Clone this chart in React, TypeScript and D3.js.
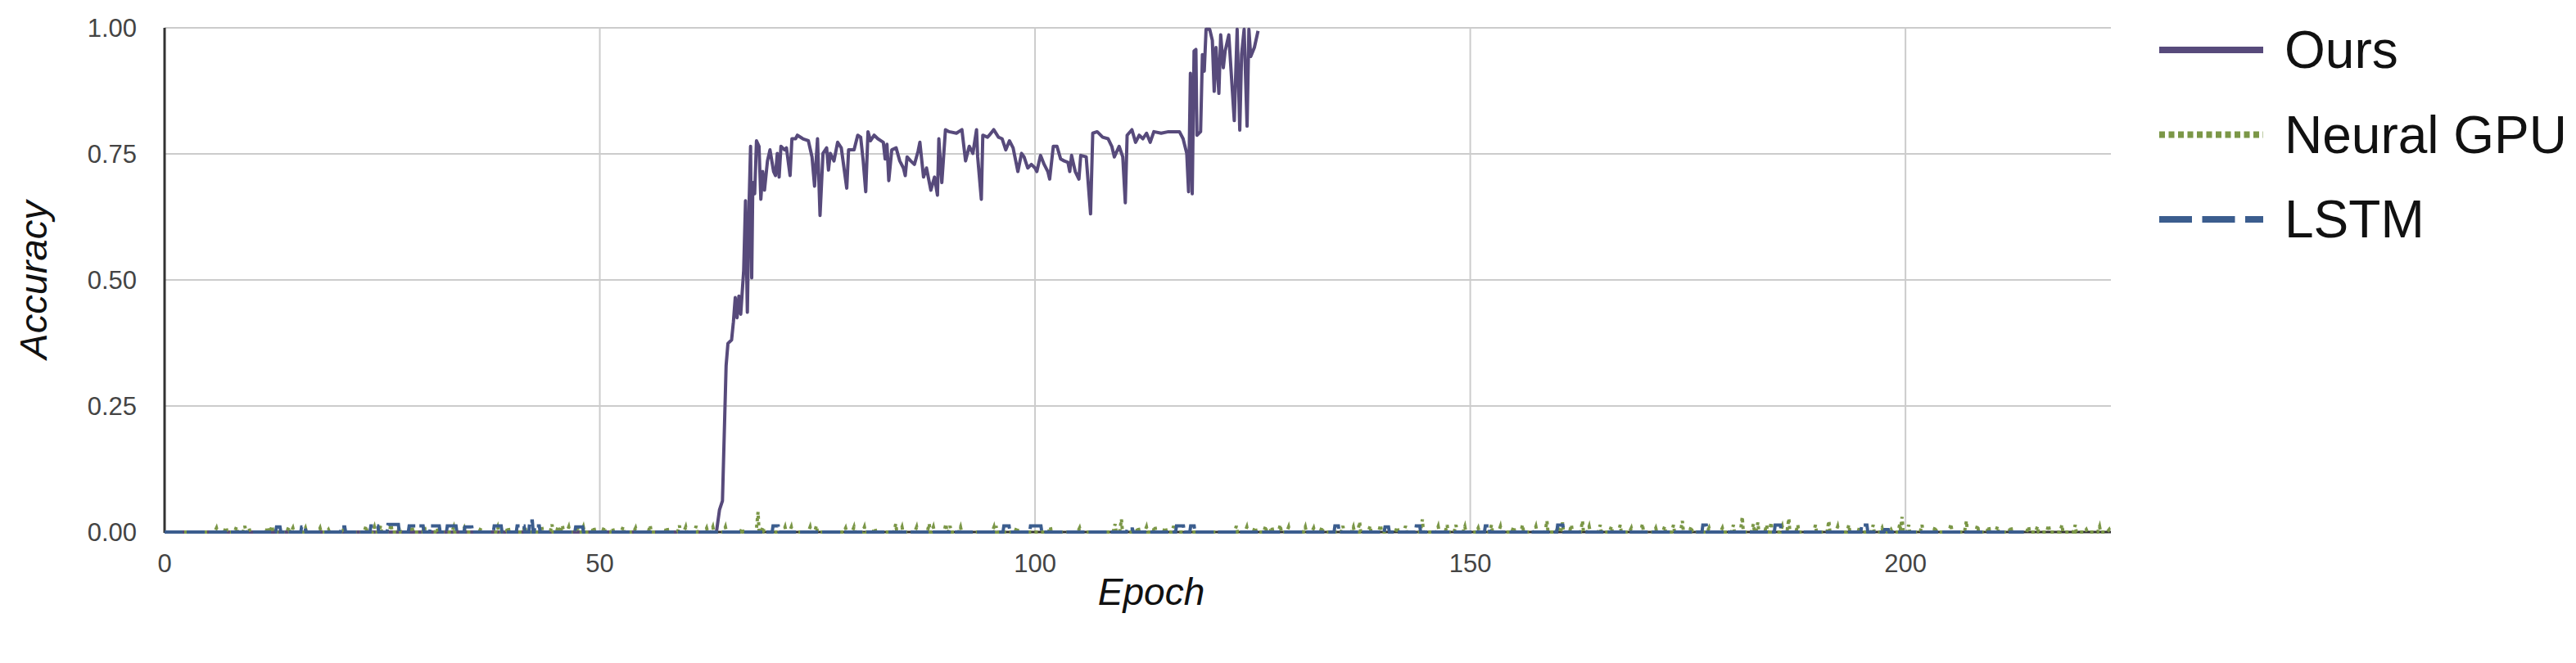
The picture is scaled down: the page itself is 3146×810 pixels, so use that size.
import * as d3 from 'd3'

const W = 3146
const H = 810
const FONT = '"Liberation Sans", Arial, Helvetica, sans-serif'

const xTicks = [0, 50, 100, 150, 200]
const yTicks = [0, 0.25, 0.5, 0.75, 1]
const epochMax = 223.6
const lstmEnd = 213.6

// Ours: [epoch, accuracy]
const oursPts: [number, number][] = [
  [0, 0], [63.4, 0], [63.75, 0.044], [64.09, 0.062], [64.51, 0.33], [64.72, 0.374], [65.14, 0.381],
  [65.35, 0.417], [65.56, 0.465], [65.77, 0.425], [65.98, 0.468], [66.19, 0.432], [66.53, 0.519],
  [66.74, 0.657], [66.95, 0.436], [67.16, 0.657], [67.32, 0.765], [67.45, 0.504], [67.58, 0.693],
  [67.79, 0.671], [68.0, 0.776], [68.29, 0.765], [68.5, 0.66], [68.71, 0.715], [68.92, 0.678],
  [69.26, 0.736], [69.55, 0.758], [69.97, 0.715], [70.18, 0.707], [70.39, 0.751], [70.6, 0.704],
  [70.81, 0.765], [71.23, 0.758], [71.44, 0.762], [71.86, 0.707], [72.07, 0.78], [72.49, 0.78],
  [72.7, 0.787], [73.33, 0.78], [73.96, 0.776], [74.38, 0.744], [74.67, 0.686], [75.01, 0.78],
  [75.3, 0.628], [75.64, 0.751], [76.06, 0.762], [76.27, 0.718], [76.48, 0.751], [76.9, 0.736],
  [77.32, 0.773], [77.74, 0.762], [78.37, 0.682], [78.58, 0.758], [79.21, 0.758], [79.63, 0.787],
  [79.97, 0.783], [80.26, 0.736], [80.55, 0.675], [80.81, 0.794], [81.1, 0.776], [81.52, 0.787],
  [81.94, 0.78], [82.57, 0.773], [82.78, 0.74], [82.99, 0.769], [83.2, 0.697], [83.54, 0.758],
  [84.04, 0.762], [84.46, 0.736], [84.88, 0.722], [85.09, 0.707], [85.3, 0.744], [85.72, 0.736],
  [86.14, 0.729], [86.56, 0.755], [86.77, 0.773], [87.19, 0.704], [87.53, 0.722], [88.03, 0.678],
  [88.45, 0.704], [88.79, 0.668], [88.95, 0.78], [89.29, 0.693], [89.71, 0.798], [90.13, 0.794],
  [90.97, 0.791], [91.6, 0.798], [92.02, 0.736], [92.44, 0.765], [92.86, 0.751], [93.28, 0.798],
  [93.41, 0.744], [93.83, 0.66], [94.0, 0.787], [94.54, 0.783], [94.75, 0.787], [95.25, 0.798],
  [95.8, 0.783], [96.22, 0.78], [96.64, 0.758], [97.06, 0.776], [97.48, 0.762], [98.03, 0.715],
  [98.45, 0.751], [98.74, 0.744], [99.16, 0.722], [99.58, 0.729], [100.0, 0.722], [100.21, 0.715],
  [100.63, 0.747], [101.05, 0.729], [101.47, 0.715], [101.68, 0.7], [102.1, 0.765], [102.52, 0.765],
  [102.94, 0.74], [103.36, 0.736], [103.78, 0.733], [103.99, 0.715], [104.2, 0.747], [104.62, 0.715],
  [105.04, 0.7], [105.25, 0.747], [105.88, 0.744], [106.38, 0.631], [106.63, 0.791], [107.14, 0.794],
  [107.77, 0.783], [108.4, 0.78], [108.82, 0.765], [109.11, 0.744], [109.66, 0.765], [110.08, 0.744],
  [110.37, 0.653], [110.58, 0.787], [111.13, 0.798], [111.55, 0.773], [111.97, 0.787], [112.39, 0.78],
  [112.81, 0.791], [113.23, 0.773], [113.65, 0.794], [114.49, 0.791], [115.33, 0.794], [116.59, 0.794],
  [117.01, 0.78], [117.43, 0.751], [117.64, 0.675], [117.85, 0.91], [118.06, 0.671], [118.27, 0.954],
  [118.48, 0.957], [118.6, 0.787], [119.02, 0.794], [119.23, 0.947], [119.44, 0.914], [119.65, 0.997],
  [120.07, 0.997], [120.37, 0.975], [120.58, 0.874], [120.79, 0.961], [121.12, 0.87], [121.33, 0.986],
  [121.63, 0.921], [121.84, 0.954], [122.26, 0.986], [122.89, 0.816], [123.22, 0.997], [123.52, 0.797],
  [123.73, 0.947], [124.02, 0.997], [124.36, 0.805], [124.57, 0.997], [124.78, 0.943], [125.2, 0.961],
  [125.62, 0.994],
]

// Neural GPU: only the non-zero blips, everything else sits at 0
const gpuEpoch = [
  5.96, 7.06, 8.26, 9.22, 9.7, 11.86, 12.34, 14.26, 14.74, 16.18, 17.86, 18.82, 20.5, 23.14, 24.1,
  24.82, 26.02, 26.98, 28.42, 29.86, 31.3, 33.22, 34.42, 36.35, 38.27, 39.47, 41.39, 43.31, 44.51,
  45.23, 45.71, 46.43, 47.39, 48.11, 49.31, 50.51, 51.47, 52.67, 54.11, 55.79, 57.71, 59.15, 59.87,
  61.07, 62.27, 62.99, 64.43, 66.35, 68.18, 68.75, 71.28, 72.0, 74.16, 74.88, 78.24, 79.2, 80.4,
  81.6, 84.0, 84.72, 86.4, 87.84, 88.32, 89.76, 90.24, 91.44, 95.28, 95.52, 97.92, 101.76, 105.12,
  109.2, 109.93, 111.85, 112.8, 113.77, 114.97, 115.93, 123.13, 124.33, 125.29, 126.49, 127.21,
  128.17, 129.13, 131.05, 132.01, 132.97, 135.37, 136.57, 137.29, 138.49, 139.69, 141.61, 142.57,
  144.5, 146.32, 147.34, 148.36, 149.38, 150.91, 152.44, 153.46, 154.99, 156.01, 157.54, 158.81,
  160.09, 160.6, 161.62, 162.89, 163.66, 164.93, 166.21, 167.23, 168.5, 169.78, 171.31, 172.33,
  173.35, 174.37, 175.39, 177.43, 178.96, 180.23, 181.25, 182.53, 183.04, 184.05, 184.57, 185.84,
  186.6, 187.63, 189.66, 191.2, 192.21, 193.49, 194.76, 196.29, 197.31, 198.33, 199.35, 199.61,
  200.37, 201.9, 203.43, 205.22, 207.0, 208.28, 209.56, 210.57, 212.1, 214.14, 215.16, 216.44,
  217.97, 219.5, 220.77, 222.3, 223.4,
]
const gpuAcc = [
  0.008, 0.01, 0.01, 0.012, 0.008, 0.01, 0.012, 0.01, 0.008, 0.008, 0.008, 0.005, 0.008, 0.012, 0.01,
  0.012, 0.015, 0.01, 0.012, 0.01, 0.008, 0.01, 0.008, 0.008, 0.01, 0.01, 0.012, 0.013, 0.015,
  0.012, 0.013, 0.01, 0.012, 0.01, 0.01, 0.01, 0.008, 0.01, 0.008, 0.013, 0.01, 0.013, 0.01,
  0.012, 0.008, 0.01, 0.01, 0.008, 0.04, 0.01, 0.01, 0.01, 0.01, 0.012, 0.008, 0.01, 0.01,
  0.008, 0.016, 0.01, 0.01, 0.016, 0.01, 0.016, 0.012, 0.01, 0.01, 0.012, 0.01, 0.01, 0.008,
  0.016, 0.025, 0.01, 0.01, 0.012, 0.01, 0.012, 0.012, 0.01, 0.01, 0.012, 0.01,
  0.014, 0.01, 0.01, 0.008, 0.01, 0.012, 0.01, 0.02, 0.012, 0.014, 0.01, 0.012,
  0.025, 0.011, 0.014, 0.014, 0.011, 0.008, 0.014, 0.011, 0.011, 0.014, 0.011, 0.022,
  0.011, 0.019, 0.014, 0.022, 0.011, 0.014, 0.011, 0.014, 0.008, 0.016, 0.008, 0.011,
  0.014, 0.022, 0.011, 0.008, 0.008, 0.014, 0.03, 0.016, 0.019, 0.014, 0.019, 0.011,
  0.027, 0.014, 0.014, 0.022, 0.011, 0.014, 0.011, 0.014, 0.008, 0.005, 0.016, 0.03,
  0.014, 0.014, 0.011, 0.016, 0.022, 0.014, 0.011, 0.011, 0.011, 0.011, 0.011, 0.014,
  0.014, 0.014, 0.005, 0.011, 0.005,
]

// LSTM: flat-topped bumps [centre epoch, accuracy, half width in epochs]
const lstmEpoch = [13.06, 15.94, 20.5, 24.1, 26.26, 28.9, 31.06, 32.98, 34.9, 38.27, 40.9, 42.1, 42.8, 47.63, 70.2, 96.72, 100.08, 110.9, 116.65, 118.08, 134.65, 140.41, 144.0, 151.93, 160.34, 176.92, 185.33, 195.27, 197.82]
const lstmAcc = [0.01, 0.01, 0.01, 0.012, 0.015, 0.012, 0.012, 0.012, 0.01, 0.012, 0.012, 0.022, 0.012, 0.01, 0.012, 0.012, 0.012, 0.006, 0.012, 0.012, 0.012, 0.01, 0.012, 0.012, 0.014, 0.014, 0.014, 0.014, 0.005]
const lstmHalf = [0.2, 0.2, 0.2, 0.4, 0.6, 0.8, 0.5, 0.5, 0.4, 0.4, 0.4, 0.15, 0.25, 0.4, 0.3, 0.3, 0.6, 0.3, 0.4, 0.2, 0.2, 0.2, 0.2, 0.2, 0.3, 0.2, 0.3, 0.3, 0.2]

const legendItems = [
  { name: 'Ours', color: '#574a7b', dash: 'none' },
  { name: 'Neural GPU', color: '#7b9747', dash: '7,4.5' },
  { name: 'LSTM', color: '#3b5d8e', dash: '40,12.5' },
]

// zero baseline with the listed blips
function blips(end: number, ep: number[], acc: number[], half: number[] | number, flat: boolean) {
  const pts: [number, number][] = [[0, 0]]
  ep.forEach((e, i) => {
    const h = typeof half === 'number' ? half : half[i]
    pts.push([e - h - 0.1, 0])
    if (flat) { pts.push([e - h, acc[i]]); pts.push([e + h, acc[i]]) } else pts.push([e, acc[i]])
    pts.push([e + (flat ? h + 0.1 : h), 0])
  })
  pts.push([end, 0])
  return pts
}

export default function App() {
  const x = d3.scaleLinear().domain([0, epochMax]).range([201, 2578])
  const y = d3.scaleLinear().domain([0, 1]).range([650, 34])
  const line = d3.line<[number, number]>().x(d => x(d[0])).y(d => y(d[1]))
  const fmt = d3.format('.2f')

  const gpuPts = blips(epochMax, gpuEpoch, gpuAcc, 0.12, false)
  const lstmPts = blips(lstmEnd, lstmEpoch, lstmAcc, lstmHalf, true)
  const [x0, x1] = x.range()
  const [yb, yt] = y.range()

  return (
    <svg width={W} height={H} style={{ position: 'absolute', left: 0, top: 0, background: '#fff' }}>
      <defs>
        <clipPath id="plot"><rect x={x0} y={yt - 2} width={x1 - x0} height={yb - yt + 6} /></clipPath>
      </defs>

      {/* grid */}
      {yTicks.filter(t => t > 0).map(t => (
        <line key={'gy' + t} x1={x0} x2={x1} y1={y(t)} y2={y(t)} stroke="#cccccc" strokeWidth={2} />
      ))}
      {xTicks.filter(t => t > 0).map(t => (
        <line key={'gx' + t} x1={x(t)} x2={x(t)} y1={yt} y2={yb} stroke="#cccccc" strokeWidth={2} />
      ))}

      {/* axes */}
      <line x1={x0} x2={x0} y1={yt} y2={yb + 1} stroke="#333" strokeWidth={3} />
      <line x1={x0} x2={x1} y1={yb} y2={yb} stroke="#333" strokeWidth={3} />

      {yTicks.map(t => (
        <text key={'ty' + t} x={167} y={y(t)} dy="0.36em" textAnchor="end" fontFamily={FONT} fontSize={31} fill="#444">{fmt(t)}</text>
      ))}
      {xTicks.map(t => (
        <text key={'tx' + t} x={x(t)} y={699} textAnchor="middle" fontFamily={FONT} fontSize={31} fill="#444">{t}</text>
      ))}

      <text x={1406} y={739} textAnchor="middle" fontFamily={FONT} fontSize={46} fontStyle="italic" fill="#111">Epoch</text>
      <text transform={`translate(57,${(yt + yb) / 2}) rotate(-90)`} textAnchor="middle" fontFamily={FONT} fontSize={47} fontStyle="italic" fill="#111">Accuracy</text>

      {/* series */}
      <g clipPath="url(#plot)" fill="none" strokeLinejoin="round">
        <path d={line(oursPts) ?? ''} stroke={legendItems[0].color} strokeWidth={4} />
        <path d={line(gpuPts) ?? ''} stroke={legendItems[1].color} strokeWidth={4} strokeDasharray="4,4" strokeLinejoin="miter" />
        <path d={line(lstmPts) ?? ''} stroke={legendItems[2].color} strokeWidth={4} strokeDasharray="22,5" strokeLinejoin="miter" />
      </g>

      {/* legend */}
      {legendItems.map((s, i) => {
        const cy = 61 + i * 103.5
        return (
          <g key={s.name}>
            <line x1={2637} x2={2764} y1={cy} y2={cy} stroke={s.color} strokeWidth={8}
              strokeDasharray={s.dash === 'none' ? undefined : s.dash} />
            <text x={2790} y={cy + 22} fontFamily={FONT} fontSize={64} fill="#111">{s.name}</text>
          </g>
        )
      })}
    </svg>
  )
}
